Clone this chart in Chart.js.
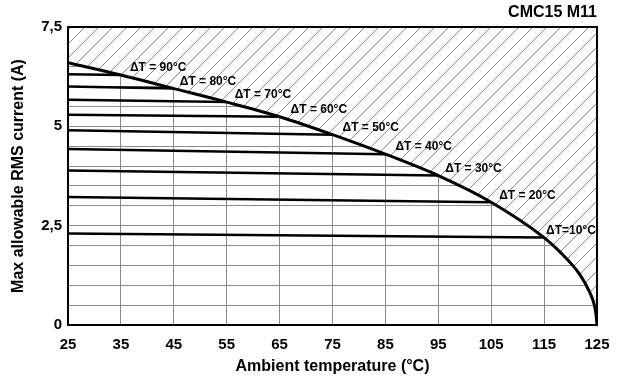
<!DOCTYPE html>
<html>
<head>
<meta charset="utf-8">
<script src="https://cdn.jsdelivr.net/npm/chart.js@4.4.1/dist/chart.umd.min.js"></script>
<style>
  html, body { margin: 0; padding: 0; background: #fff; }
</style>
</head>
<body>
<canvas id="rmsChart" width="624" height="377"></canvas>
<script>
// ===== Data =====
const chartTitle = "CMC15 M11";
const xTicks = [25, 35, 45, 55, 65, 75, 85, 95, 105, 115, 125];

// Max allowable current envelope (A) vs ambient temperature (°C)
const envelopeT = [25, 35, 45, 55, 65, 75, 85, 95, 105, 115, 118, 121.8, 123.7, 124.4, 124.8, 125];
const envelopeI = [6.60, 6.29, 5.95, 5.61, 5.24, 4.79, 4.30, 3.76, 3.09, 2.20, 1.84, 1.26, 0.80, 0.55, 0.28, 0];

// Constant temperature-rise lines: current at 25 °C, they end on the envelope at 125 - ΔT
const deltaT = [90, 80, 70, 60, 50, 40, 30, 20, 10];
const startI = [6.31, 6.00, 5.67, 5.29, 4.90, 4.43, 3.89, 3.22, 2.30];
const deltaLabels = ["ΔT = 90°C", "ΔT = 80°C", "ΔT = 70°C", "ΔT = 60°C", "ΔT = 50°C",
                     "ΔT = 40°C", "ΔT = 30°C", "ΔT = 20°C", "ΔT=10°C"];

const FONT = '"Liberation Sans", Arial, sans-serif';

// ===== Hatch pattern for the forbidden zone =====
function makeHatch() {
    const s = 14;
    const c = document.createElement('canvas');
    c.width = s; c.height = s;
    const g = c.getContext('2d');
    g.fillStyle = '#fff';
    g.fillRect(0, 0, s, s);
    g.strokeStyle = '#8a8a8a';
    g.lineWidth = 1;
    g.beginPath();
    g.moveTo(0, s); g.lineTo(s, 0);
    g.moveTo(-2, 2); g.lineTo(2, -2);
    g.moveTo(s - 2, s + 2); g.lineTo(s + 2, s - 2);
    g.stroke();
    return g.createPattern(c, 'repeat');
}

function endCurrent(t) {
    return envelopeI[envelopeT.indexOf(t)];
}

const datasets = [{
    label: 'envelope',
    data: envelopeT.map((t, i) => ({ x: t, y: envelopeI[i] })),
    borderColor: '#000',
    borderWidth: 3,
    backgroundColor: makeHatch(),
    fill: 'end',
    pointRadius: 0,
    cubicInterpolationMode: 'monotone'
}];

deltaT.forEach((d, i) => {
    const tEnd = 125 - d;
    datasets.push({
        label: deltaLabels[i],
        data: [{ x: 25, y: startI[i] }, { x: tEnd, y: endCurrent(tEnd) }],
        borderColor: '#000',
        borderWidth: 2.5,
        fill: false,
        pointRadius: 0
    });
});

// ===== Frame, ΔT labels and title =====
const labelDx = [9, 6, 8, 11, 10, 10, 7, 8, 2];

const overlay = {
    id: 'overlay',
    afterDatasetsDraw(chart) {
        const { ctx, chartArea: a, scales: { x, y } } = chart;
        ctx.save();
        ctx.strokeStyle = '#000';
        ctx.lineWidth = 2;
        ctx.strokeRect(a.left, a.top, a.right - a.left, a.bottom - a.top);

        ctx.fillStyle = '#000';
        ctx.textBaseline = 'middle';
        ctx.font = 'bold 12px ' + FONT;
        deltaT.forEach((d, i) => {
            const t = 125 - d;
            const px = x.getPixelForValue(t);
            const py = y.getPixelForValue(endCurrent(t));
            ctx.fillText(deltaLabels[i], px + labelDx[i], py - 7);
        });

        ctx.font = 'bold 16px ' + FONT;
        ctx.textAlign = 'right';
        ctx.fillText(chartTitle, a.right, 13);
        ctx.restore();
    }
};

const ctx = document.getElementById('rmsChart').getContext('2d');
new Chart(ctx, {
    type: 'line',
    data: { datasets },
    plugins: [overlay],
    options: {
        responsive: false,
        animation: false,
        layout: { padding: { top: 27, right: 27, left: 0, bottom: 0 } },
        plugins: { legend: { display: false }, tooltip: { enabled: false } },
        scales: {
            x: {
                type: 'linear',
                min: xTicks[0],
                max: xTicks[xTicks.length - 1],
                afterBuildTicks: (scale) => { scale.ticks = xTicks.map(v => ({ value: v })); },
                afterFit: (scale) => { scale.height = 52; },
                grid: { color: '#8a8a8a', lineWidth: 1, drawTicks: false },
                border: { color: '#000', width: 2 },
                ticks: { color: '#000', padding: 11, maxRotation: 0, autoSkip: false, font: { family: FONT, size: 15, weight: 'bold' } },
                title: {
                    display: true,
                    text: 'Ambient temperature (°C)',
                    color: '#000',
                    font: { family: FONT, size: 16, weight: 'bold' },
                    padding: { top: 0, bottom: 1 }
                }
            },
            y: {
                min: 0,
                max: 7.5,
                afterFit: (scale) => { scale.width = 68; },
                grid: { color: '#8a8a8a', lineWidth: 1, drawTicks: false },
                border: { color: '#000', width: 2 },
                ticks: {
                    stepSize: 0.5,
                    autoSkip: false,
                    color: '#000',
                    padding: 6,
                    font: { family: FONT, size: 15, weight: 'bold' },
                    callback: (v) => {
                        const k = v / 2.5;
                        return Math.abs(k - Math.round(k)) < 1e-6 ? String(v).replace('.', ',') : '';
                    }
                },
                title: {
                    display: true,
                    text: 'Max allowable RMS current (A)',
                    color: '#000',
                    font: { family: FONT, size: 16, weight: 'bold' },
                    padding: { top: 9, bottom: 0 }
                }
            }
        }
    }
});
</script>
</body>
</html>
